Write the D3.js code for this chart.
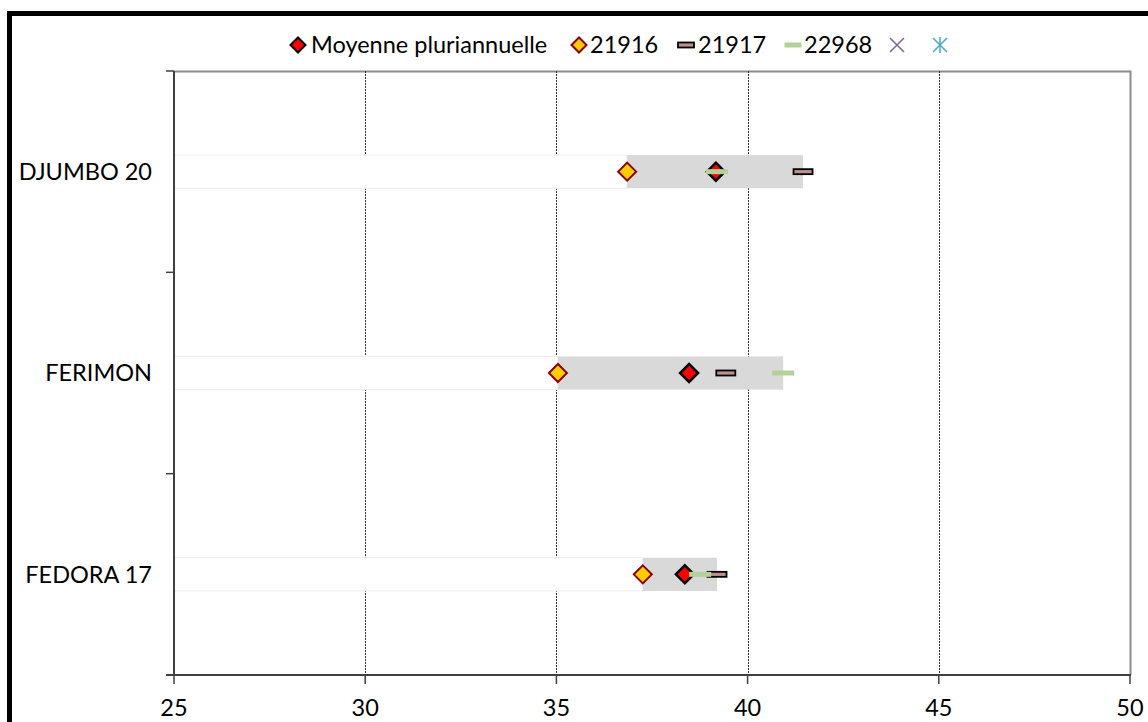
<!DOCTYPE html>
<html>
<head>
<meta charset="utf-8">
<script src="https://cdn.jsdelivr.net/npm/d3@7"></script>
<style>
  body { margin: 0; background: #fff; }
  text { font-family: Lato, "Open Sans", sans-serif; fill: #000; }
</style>
</head>
<body>
<div id="chart"></div>
<script>
// Varieties, top to bottom
const varieties = ["DJUMBO 20", "FERIMON", "FEDORA 17"];

// Values per series (same order as varieties)
const moyenne = [39.17, 38.47, 38.36];
const s21916 = [36.85, 35.04, 37.26];
const s21917 = [41.45, 39.43, 39.20];
const s22968 = [39.20, 40.93, 38.76];

const xTicks = [25, 30, 35, 40, 45, 50];

// Page size
const width = 1148;
const height = 722;
const margin = {top: 71, right: 18, bottom: 47, left: 174};
const fontSize = "23.5px";

const svg = d3.select("#chart")
  .append("svg")
    .attr("width", width)
    .attr("height", height);

// Outer frame (cut off at the right and bottom like the source)
svg.append("rect")
  .attr("x", 9.5)
  .attr("y", 13.5)
  .attr("width", width + 10)
  .attr("height", height + 10)
  .attr("fill", "white")
  .attr("stroke", "black")
  .attr("stroke-width", 5);

let x = d3.scaleLinear()
  .domain([25, 50])
  .range([margin.left, width - margin.right]);

let y = d3.scaleBand()
  .domain(varieties)
  .range([margin.top, height - margin.bottom]);

let rows = varieties.map((v, i) => ({
  name: v,
  moy: moyenne[i],
  a: s21916[i],
  b: s21917[i],
  c: s22968[i],
  lo: d3.min([s21916[i], s21917[i], s22968[i]]),
  hi: d3.max([s21916[i], s21917[i], s22968[i]])
}));

// Plot area border (grey top and right)
svg.append("path")
  .attr("d", "M" + x(25) + "," + (margin.top + 0.5) + "H" + (x(50) + 0.5) + "V" + y.range()[1])
  .attr("fill", "none")
  .attr("stroke", "#8c8c8c")
  .attr("stroke-width", 2);

// Dotted vertical gridlines
svg.selectAll(".grid")
  .data(xTicks.filter(t => t > 25 && t < 50))
  .enter()
  .append("line")
    .attr("x1", d => Math.round(x(d)) + 0.5)
    .attr("x2", d => Math.round(x(d)) + 0.5)
    .attr("y1", margin.top)
    .attr("y2", y.range()[1])
    .attr("stroke", "#333")
    .attr("stroke-width", 1)
    .attr("stroke-dasharray", "2,1");

let barH = y.bandwidth() * 0.165;
let cy = d => y(d.name) + y.bandwidth() / 2;

// Invisible base segment (white with faint edge)
svg.selectAll(".base")
  .data(rows)
  .enter()
  .append("rect")
    .attr("x", x(25))
    .attr("y", d => cy(d) - barH / 2)
    .attr("width", d => x(d.lo) - x(25))
    .attr("height", barH)
    .attr("fill", "white")
    .attr("stroke", "#ededed")
    .attr("stroke-width", 1);

// Grey range segment
svg.selectAll(".range")
  .data(rows)
  .enter()
  .append("rect")
    .attr("x", d => x(d.lo))
    .attr("y", d => cy(d) - barH / 2)
    .attr("width", d => x(d.hi) - x(d.lo))
    .attr("height", barH)
    .attr("fill", "#d9d9d9");

// Axes
svg.append("line")
  .attr("x1", x(25)).attr("x2", x(25))
  .attr("y1", margin.top).attr("y2", y.range()[1] + 1)
  .attr("stroke", "#404040").attr("stroke-width", 2);

svg.append("line")
  .attr("x1", x(25) - 8).attr("x2", x(50) + 1)
  .attr("y1", y.range()[1]).attr("y2", y.range()[1])
  .attr("stroke", "#404040").attr("stroke-width", 2);

// X ticks and labels
svg.selectAll(".xtick")
  .data(xTicks)
  .enter()
  .append("line")
    .attr("x1", d => x(d)).attr("x2", d => x(d))
    .attr("y1", y.range()[1]).attr("y2", y.range()[1] + 9)
    .attr("stroke", "#404040").attr("stroke-width", 1.5);

svg.selectAll(".xlab")
  .data(xTicks)
  .enter()
  .append("text")
    .attr("x", d => x(d))
    .attr("y", y.range()[1] + 41)
    .attr("text-anchor", "middle")
    .style("font-size", fontSize)
    .text(d => d);

// Y ticks at band boundaries
let yBounds = varieties.map(v => y(v)).concat([y.range()[1]]);
svg.selectAll(".ytick")
  .data(yBounds)
  .enter()
  .append("line")
    .attr("x1", x(25) - 8).attr("x2", x(25))
    .attr("y1", d => d).attr("y2", d => d)
    .attr("stroke", "#404040").attr("stroke-width", 1.5);

svg.selectAll(".ylab")
  .data(rows)
  .enter()
  .append("text")
    .attr("x", x(25) - 22)
    .attr("y", d => cy(d))
    .attr("dy", "0.36em")
    .attr("text-anchor", "end")
    .style("font-size", fontSize)
    .text(d => d.name);

// Marker helpers
let diamond = s => "M0," + (-s) + "L" + s + ",0L0," + s + "L" + (-s) + ",0Z";

function drawDash(sel, cx, cyv, w, h, fill, stroke) {
  sel.append("rect")
    .attr("x", cx - w / 2)
    .attr("y", cyv - h / 2)
    .attr("width", w)
    .attr("height", h)
    .attr("fill", fill)
    .attr("stroke", stroke)
    .attr("stroke-width", stroke === "none" ? 0 : 1.8);
}

// 21916 diamonds
svg.selectAll(".m21916")
  .data(rows)
  .enter()
  .append("path")
    .attr("d", diamond(9))
    .attr("transform", d => "translate(" + x(d.a) + "," + cy(d) + ")")
    .attr("fill", "#ffcc00")
    .attr("stroke", "#8b0000")
    .attr("stroke-width", 2);

// Moyenne diamonds
svg.selectAll(".mmoy")
  .data(rows)
  .enter()
  .append("path")
    .attr("d", diamond(9))
    .attr("transform", d => "translate(" + x(d.moy) + "," + cy(d) + ")")
    .attr("fill", "#ff0000")
    .attr("stroke", "black")
    .attr("stroke-width", 2.5);

// 21917 dashes
rows.forEach(d => drawDash(svg, x(d.b), cy(d), 19, 5, "#c09090", "black"));

// 22968 dashes
rows.forEach(d => drawDash(svg, x(d.c), cy(d), 22, 5, "#b5d19a", "none"));

// Legend
let legend = svg.append("g").attr("transform", "translate(0,45)");

function legendText(g, dx, label) {
  g.append("text")
    .attr("x", dx)
    .attr("dy", "0.36em")
    .style("font-size", fontSize)
    .text(label);
}

let lg1 = legend.append("g").attr("transform", "translate(298,0)");
lg1.append("path").attr("d", diamond(7.5)).attr("fill", "#ff0000").attr("stroke", "black").attr("stroke-width", 2);
legendText(lg1, 13, "Moyenne pluriannuelle");

let lg2 = legend.append("g").attr("transform", "translate(579,0)");
lg2.append("path").attr("d", diamond(7.5)).attr("fill", "#ffcc00").attr("stroke", "#8b0000").attr("stroke-width", 2);
legendText(lg2, 11, "21916");

let lg3 = legend.append("g").attr("transform", "translate(686,0)");
drawDash(lg3, 0, 0, 16, 5, "#c09090", "black");
legendText(lg3, 12, "21917");

let lg4 = legend.append("g").attr("transform", "translate(793,0)");
drawDash(lg4, 0, 0, 17, 5, "#b5d19a", "none");
legendText(lg4, 11, "22968");

let lg5 = legend.append("g").attr("transform", "translate(897,0)");
lg5.append("path").attr("d", "M-7,-7L7,7M-7,7L7,-7").attr("stroke", "#7e649e").attr("stroke-width", 1.5);

let lg6 = legend.append("g").attr("transform", "translate(940,0)");
lg6.append("path").attr("d", "M-7,-7L7,7M-7,7L7,-7M0,-8V8").attr("stroke", "#4aacc6").attr("stroke-width", 1.5);
</script>
</body>
</html>
